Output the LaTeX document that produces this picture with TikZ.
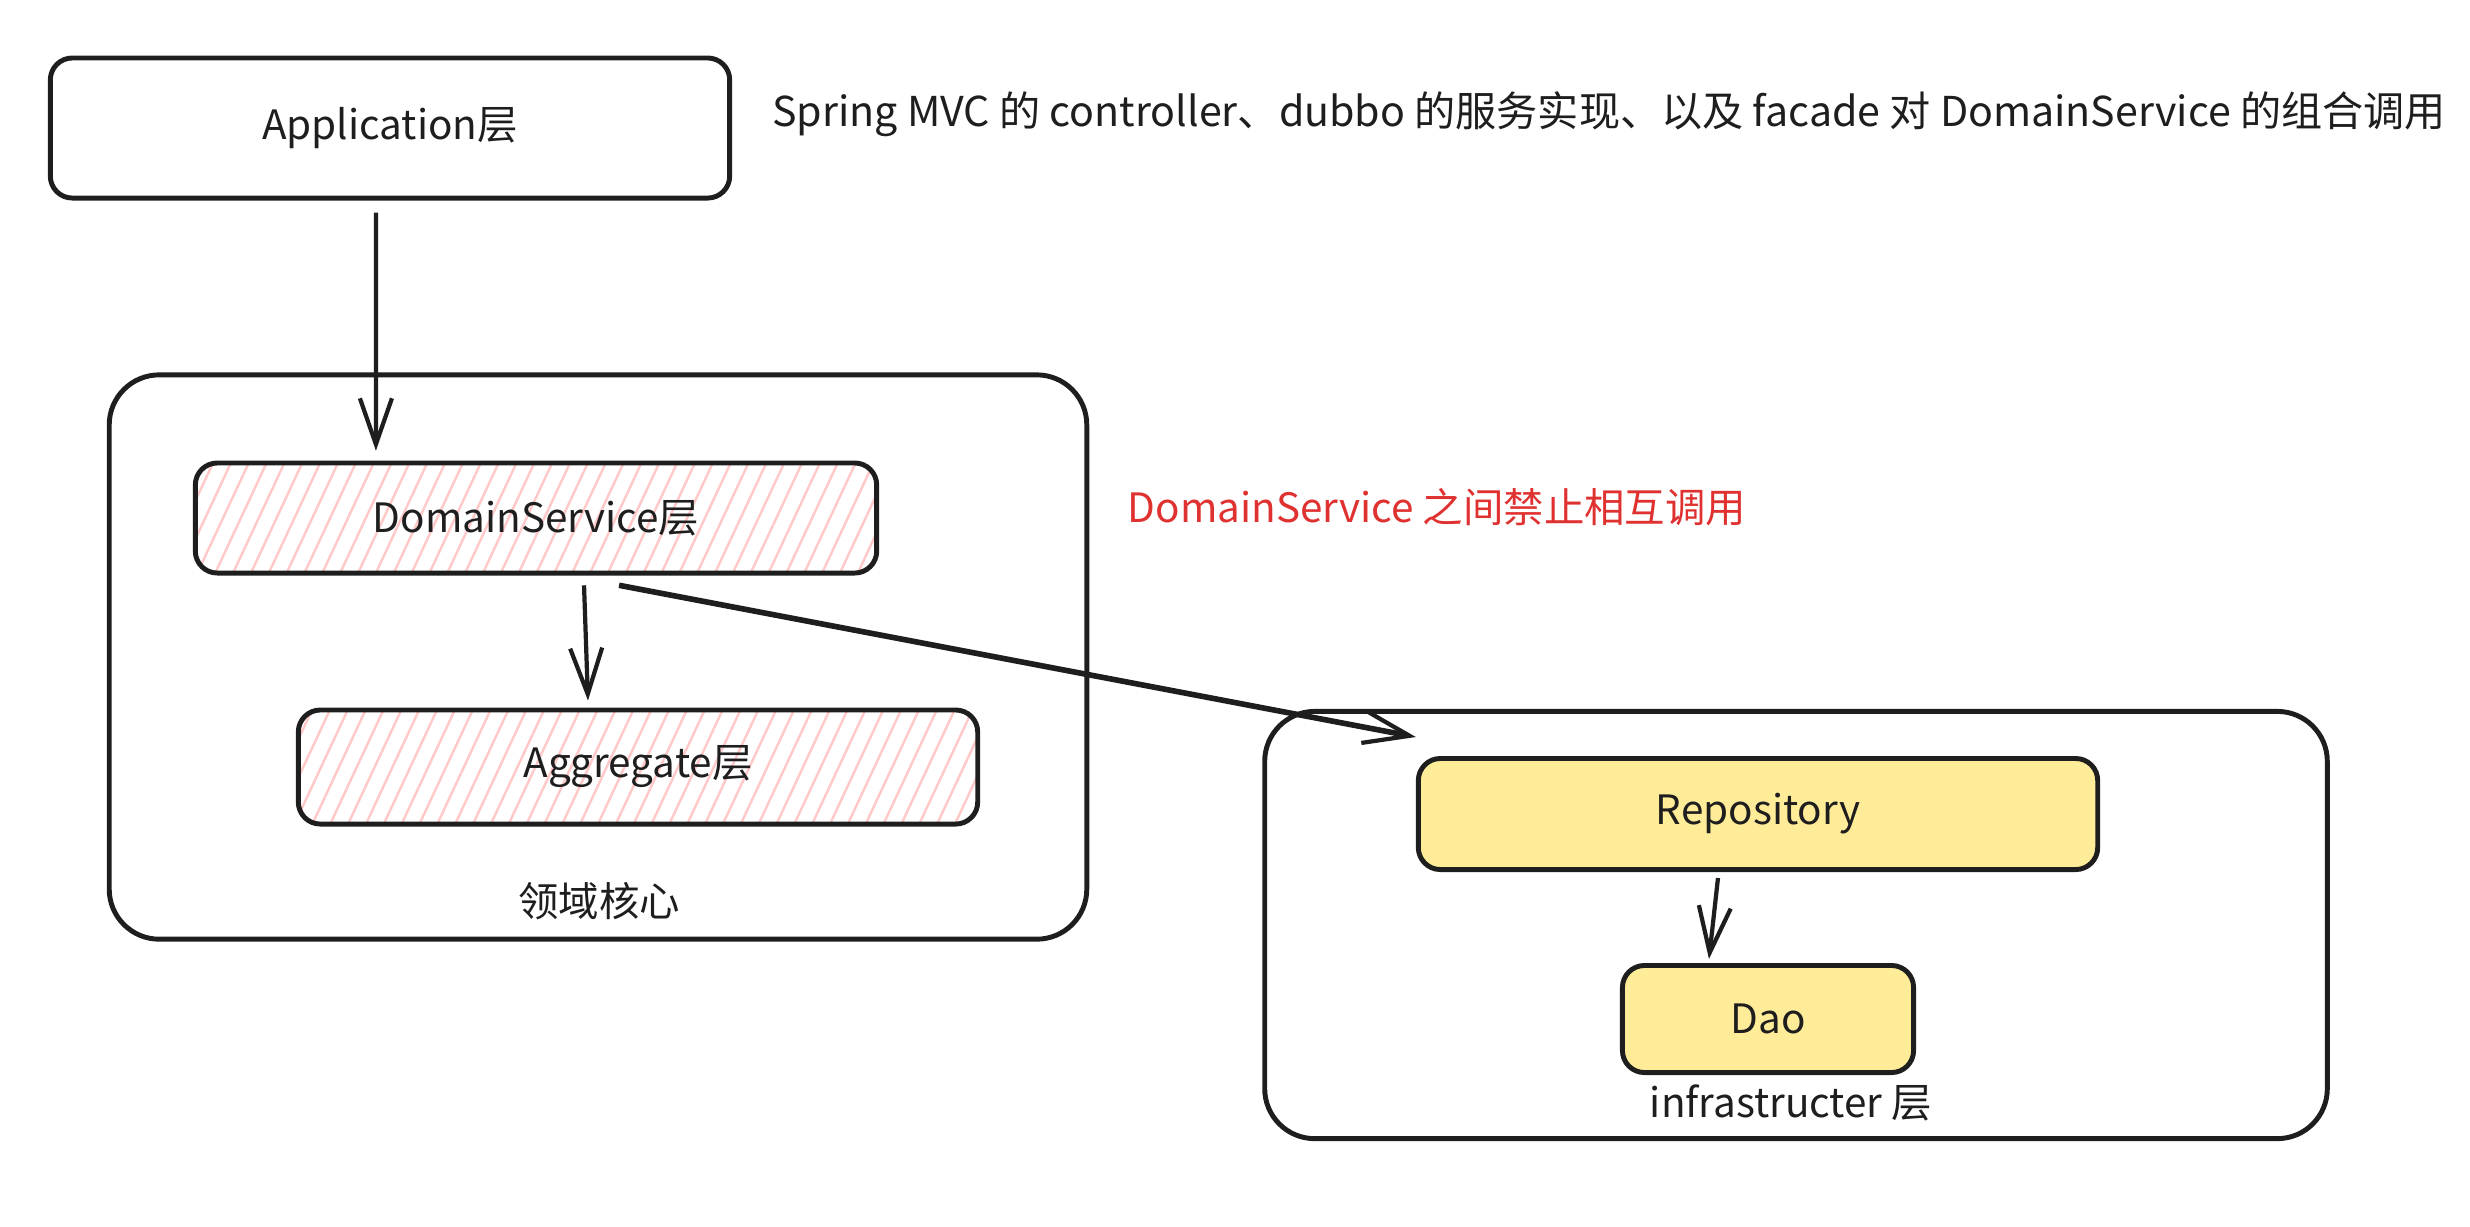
\documentclass[tikz,border=0pt]{standalone}
\usepackage{fontspec}
\setmainfont{Noto Sans CJK SC}
\usepackage{tikz}
\usetikzlibrary{arrows.meta,positioning,patterns.meta}

\definecolor{inkgray}{HTML}{1E1E1E}
\definecolor{padyellow}{HTML}{FFEC99}
\definecolor{hatchpink}{HTML}{FFC9C9}
\definecolor{notered}{HTML}{E03131}

\begin{document}
\begin{tikzpicture}[
    x=0.01cm, y=-0.01cm,
    every node/.style={font=\fontsize{11.5}{14}\selectfont, text=inkgray},
    layer/.style={rectangle, draw=inkgray, line width=1.4pt, rounded corners=0.22cm, align=center},
    hatched/.style={layer, pattern={Lines[angle=65, distance=4.6pt, line width=0.7pt]}, pattern color=hatchpink},
    filled/.style={layer, fill=padyellow},
    frame/.style={rectangle, draw=inkgray, line width=1.4pt, rounded corners=0.5cm},
    arrow/.style={-{Straight Barb[length=4.6mm, width=3.2mm, line width=1.2pt]}, line width=1.2pt, draw=inkgray}
]

\useasboundingbox (0,0) rectangle (2470,1226);

% Application
\node[layer, minimum width=6.79cm, minimum height=1.40cm] (app) at (390,128) {Application层};
\node[anchor=west, font=\fontsize{11.7}{14}\selectfont] (appnote) at (760,114) {Spring MVC 的 controller、dubbo 的服务实现、以及 facade 对 DomainService 的组合调用};

% Domain core
\node[frame, minimum width=9.77cm, minimum height=5.64cm] (core) at (598,657) {};
\node[hatched, minimum width=6.81cm, minimum height=1.10cm] (ds) at (536,518) {DomainService层};
\node[hatched, minimum width=6.79cm, minimum height=1.14cm] (agg) at (638,767) {Aggregate层};
\node (corelabel) at (599,901) {领域核心};
\node[text=notered] (dsnote) at (1437,507) {DomainService 之间禁止相互调用};

% Infrastructure
\node[frame, minimum width=10.62cm, minimum height=4.27cm] (infra) at (1796,925) {};
\node[filled, minimum width=6.79cm, minimum height=1.11cm] (repo) at (1758,814) {Repository};
\node[filled, minimum width=2.91cm, minimum height=1.07cm] (dao) at (1768,1019) {Dao};
\node (infralabel) at (1791,1103) {infrastructer 层};

% Arrows
\draw[arrow] ([xshift=-0.14cm, yshift=-0.12cm]app.south) -- ([xshift=-1.60cm, yshift=0.11cm]ds.north);
\draw[arrow] ([xshift=0.48cm, yshift=-0.11cm]ds.south) -- ([xshift=-0.50cm, yshift=0.07cm]agg.north);
\draw[arrow, line width=1.6pt] ([xshift=0.83cm, yshift=-0.11cm]ds.south) -- ([yshift=0.19cm]repo.north west);
\draw[arrow] ([xshift=-0.40cm, yshift=-0.06cm]repo.south) -- ([xshift=-0.59cm, yshift=0.04cm]dao.north);

\end{tikzpicture}
\end{document}
